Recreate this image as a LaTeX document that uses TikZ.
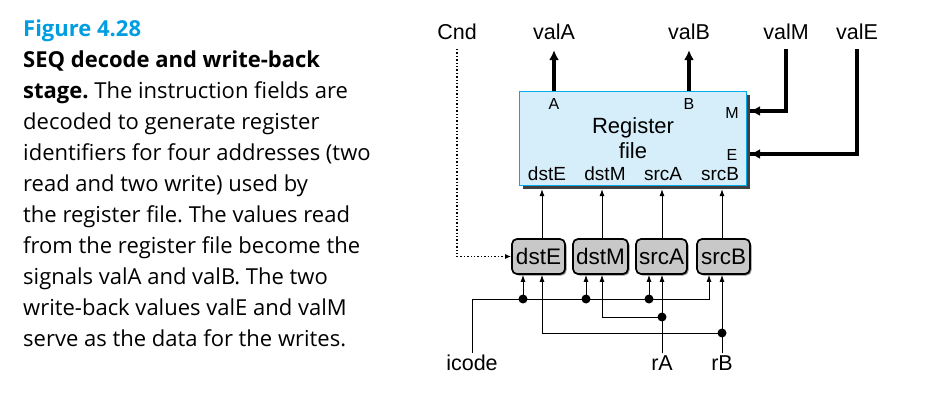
\documentclass[tikz,border=0pt]{standalone}
\usepackage{fontspec}
\setmainfont{Liberation Sans}
\newfontfamily\capfont{Open Sans}
\usetikzlibrary{arrows.meta,shadows}

\definecolor{figblue}{RGB}{0,158,224}
\definecolor{regfill}{RGB}{214,238,250}
\definecolor{regline}{RGB}{0,170,230}
\definecolor{boxgray}{RGB}{200,200,200}

\tikzset{
  sig/.style={inner sep=2pt, font=\fontsize{21.5}{24}\selectfont},
  regbox/.style={draw=regline, fill=regfill, line width=0.8pt,
    drop shadow={shadow xshift=4pt, shadow yshift=-4pt, fill=black!75, opacity=1}},
  idbox/.style={draw, fill=boxgray, line width=1.7pt, rounded corners=5pt,
    minimum width=53pt, minimum height=35pt, inner sep=1pt,
    font=\fontsize{22.5}{25}\selectfont,
    drop shadow={shadow xshift=1.5pt, shadow yshift=-1.5pt, fill=black!45, opacity=1}},
  port/.style={inner sep=0pt, font=\fontsize{16}{18}\selectfont},
  regtxt/.style={inner sep=0pt, font=\fontsize{19}{21}\selectfont},
  wire/.style={line width=1pt, -{Latex[length=7pt,width=5pt]}},
  bus/.style={line width=3.6pt, -{Latex[length=10pt,width=10pt]}},
  dot/.style={circle, fill=black, inner sep=0pt, minimum size=9pt}
}

\begin{document}
\frenchspacing
\begin{tikzpicture}[x=1pt,y=-1pt]
\useasboundingbox (0,0) rectangle (929,409);

% caption
\node[anchor=north west, inner sep=0pt, align=left,
  font=\capfont\fontsize{22}{31}\selectfont] (caption) at (23,20)
  {{\bfseries\color{figblue}Figure 4.28}\\
   {\bfseries SEQ decode and write-back}\\
   {\bfseries stage.} The instruction fields are\\
   decoded to generate register\\
   identifiers for four addresses (two\\
   read and two write) used by\\
   the register file. The values read\\
   from the register file become the\\
   signals valA and valB. The two\\
   write-back values valE and valM\\
   serve as the data for the writes.};

% signal names on top
\node[sig] (Cnd)  at (457,32) {Cnd};
\node[sig] (valA) at (554,32) {valA};
\node[sig] (valB) at (689,32) {valB};
\node[sig] (valM) at (786,32) {valM};
\node[sig] (valE) at (857,32) {valE};

% register file
\node[regbox, minimum width=227pt, minimum height=94pt] (rf) at (632.5,138) {};
\node[port] (pA) at (554,104) {A};
\node[port] (pB) at (689,104) {B};
\node[port] (pM) at (732,113) {M};
\node[port] (pE) at (732,155) {E};
\node[inner sep=0pt, align=center, font=\fontsize{22}{25}\selectfont] (rfname) at (633,138) {Register\\file};
\node[regtxt] (rdstE) at (547,174) {dstE};
\node[regtxt] (rdstM) at (605,174) {dstM};
\node[regtxt] (rsrcA) at (663,174) {srcA};
\node[regtxt] (rsrcB) at (720,174) {srcB};

% register id blocks
\node[idbox] (dstE) at (538.5,256.5) {dstE};
\node[idbox, minimum width=55pt] (dstM) at (600.5,256.5) {dstM};
\node[idbox, minimum width=51pt] (srcA) at (661.5,256.5) {srcA};
\node[idbox] (srcB) at (723.5,256.5) {srcB};

% inputs at the bottom
\node[sig] (icode) at (472,363) {icode};
\node[sig] (rA) at (662,363) {rA};
\node[sig] (rB) at (722,363) {rB};

\coordinate (c1) at (542,0);
\coordinate (c2) at (602,0);
\coordinate (c3) at (662,0);
\coordinate (c4) at (722,0);
\coordinate (l1) at (523,0);
\coordinate (l2) at (586,0);
\coordinate (l3) at (649,0);
\coordinate (l4) at (709,0);
\coordinate (busy) at (0,299);
\coordinate (rfbot) at (0,189);
\coordinate (inM) at (750,111);
\coordinate (inE) at (750,154);
\coordinate (rAdot) at (662,317);
\coordinate (rBdot) at (722,333);

% register file ports
\draw[bus] (rf.north -| valA) -- ([yshift=-8pt]valA.south);
\draw[bus] (rf.north -| valB) -- ([yshift=-8pt]valB.south);
\draw[bus, -] ([yshift=-7pt]valM.south) |- (inM);
\draw[bus, -] ([yshift=-7pt]valE.south) |- (inE);
\draw[bus, shorten <=1pt] (inM -| valM) -- (inM);
\draw[bus, shorten <=1pt] (inE -| valE) -- (inE);
\draw[line width=1.4pt, dotted, -{Latex[length=6pt,width=5pt]}]
  ([yshift=-7pt]Cnd.south) |- (dstE.west);

\draw[wire] (c1 |- dstE.north) -- (c1 |- rfbot);
\draw[wire] (c2 |- dstM.north) -- (c2 |- rfbot);
\draw[wire] (c3 |- srcA.north) -- (c3 |- rfbot);
\draw[wire] (c4 |- srcB.north) -- (c4 |- rfbot);

% icode bus
\draw[wire] (icode.north) |- (l4 |- busy) -- (l4 |- srcB.south);
\node[dot] (d1) at (l1 |- busy) {};
\node[dot] (d2) at (l2 |- busy) {};
\node[dot] (d3) at (l3 |- busy) {};
\draw[wire] (d1.center) -- (l1 |- dstE.south);
\draw[wire] (d2.center) -- (l2 |- dstM.south);
\draw[wire] (d3.center) -- (l3 |- srcA.south);

% rA and rB
\draw[wire] (rA.north) -- (c3 |- srcA.south);
\draw[wire] (rB.north) -- (c4 |- srcB.south);
\node[dot] (dA) at (rAdot) {};
\node[dot] (dB) at (rBdot) {};
\draw[wire] (dA.center) -| (c2 |- dstM.south);
\draw[wire] (dB.center) -| (c1 |- dstE.south);
\end{tikzpicture}
\end{document}
